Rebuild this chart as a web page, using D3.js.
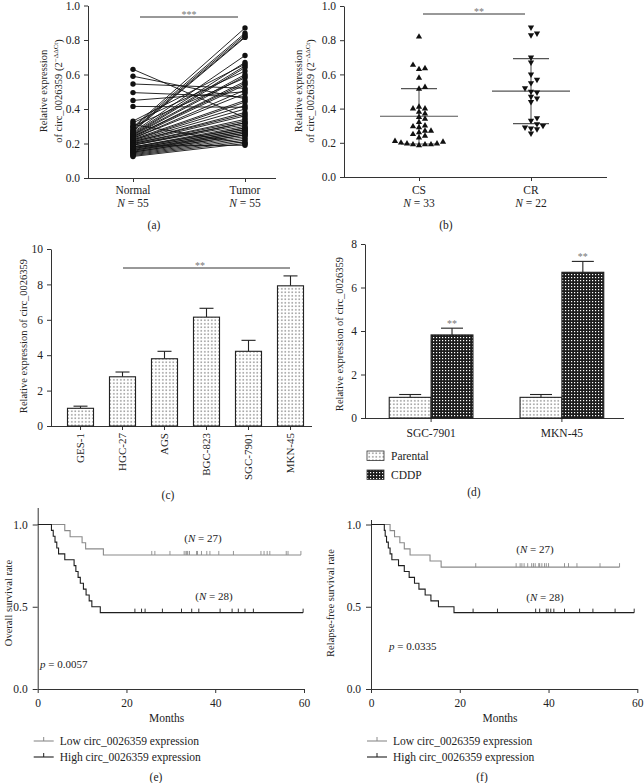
<!DOCTYPE html>
<html><head><meta charset="utf-8">
<script src="https://cdn.jsdelivr.net/npm/d3@7"></script>
<style>
body{margin:0;background:#fff;}
svg text{font-family:"Liberation Serif","DejaVu Serif",serif;fill:#222;}
</style></head><body>
<svg id="chart" width="644" height="783"></svg>
<script>
// ---------------- DATA ----------------
// (a) paired normal / tumor expression
const pairNormal = [0.63,0.59,0.545,0.495,0.45,0.415,0.33,0.32,0.31,0.30,0.295,0.29,0.28,0.275,0.27,0.265,0.26,0.255,0.25,0.25,0.245,0.24,0.24,0.235,0.23,0.23,0.225,0.22,0.22,0.215,0.21,0.21,0.205,0.20,0.20,0.195,0.19,0.19,0.185,0.18,0.18,0.175,0.17,0.17,0.165,0.16,0.16,0.155,0.15,0.15,0.145,0.14,0.135,0.13,0.125];
const pairTumor  = [0.35,0.46,0.52,0.47,0.50,0.41,0.66,0.62,0.20,0.58,0.87,0.84,0.83,0.82,0.815,0.71,0.67,0.65,0.64,0.60,0.59,0.56,0.55,0.54,0.51,0.49,0.45,0.44,0.42,0.40,0.38,0.37,0.36,0.34,0.33,0.32,0.32,0.31,0.19,0.30,0.29,0.29,0.28,0.28,0.27,0.27,0.26,0.26,0.25,0.25,0.24,0.23,0.22,0.21,0.20];
const aGroups = ["Normal","Tumor"];
const aN = [55,55];
// (b) CS / CR
const bGroups = ["CS","CR"];
const bN = [33,22];
const csValues = [0.82,0.655,0.63,0.635,0.58,0.525,0.515,0.41,0.40,0.40,0.38,0.37,0.35,0.34,0.32,0.30,0.295,0.29,0.27,0.27,0.26,0.25,0.24,0.23,0.21,0.205,0.20,0.195,0.195,0.19,0.19,0.19,0.185];
const crValues = [0.875,0.84,0.83,0.70,0.67,0.60,0.57,0.55,0.52,0.50,0.495,0.47,0.46,0.44,0.345,0.33,0.31,0.30,0.29,0.285,0.28,0.255];
const bMeans = [0.355,0.502];
const bSDs = [0.162,0.19];
// (c) cell lines
const cellLines = ["GES-1","HGC-27","AGS","BGC-823","SGC-7901","MKN-45"];
const cellExpr = [1.0,2.78,3.8,6.15,4.22,7.92];
const cellErr  = [0.12,0.27,0.42,0.5,0.62,0.56];
// (d) parental vs CDDP
const dGroups = ["SGC-7901","MKN-45"];
const dSeries = ["Parental","CDDP"];
const dParental = [0.95,0.95];
const dParentalErr = [0.13,0.13];
const dCDDP = [3.82,6.7];
const dCDDPErr = [0.31,0.5];
// (e) overall survival (months)
const osLowEvents = [6.1,7.3,10.0,10.8,14.8];
const osLowCensored = [25.7,26.4,29.8,33.0,33.4,33.8,34.2,35.8,36.0,36.9,38.1,38.8,40.8,44.1,50.3,51.0,51.7,52.3,56.0,56.4,33.6,59.3];
const osHighEvents = [3.1,3.5,3.9,4.3,4.7,6.1,8.2,8.6,9.1,9.6,10.3,10.9,11.6,12.2,14.1];
const osHighCensored = [21.9,23.4,24.2,28.1,32.4,34.7,36.3,41.1,43.8,45.2,46.7,48.6,59.8];
// (f) relapse-free survival (months)
const rfsLowEvents = [4.3,5.3,6.5,7.5,8.8,13.3,15.8];
const rfsLowCensored = [23.6,32.7,33.6,34.0,34.5,35.3,36.2,36.6,37.0,37.8,38.0,38.5,39.1,39.5,40.0,43.6,44.5,46.4,51.6,56.0];
const rfsHighEvents = [3.0,3.2,3.5,3.9,4.3,4.7,6.2,7.5,8.6,9.8,10.8,12.2,13.5,15.2,18.7];
const rfsHighCensored = [23.0,28.5,37.1,38.0,39.5,39.9,40.5,41.2,43.6,47.0,50.0,55.0,59.3];
const kmTicks = [0,20,40,60];
const kmYTicks = [0,0.5,1.0];

// ---------------- DRAWING ----------------
const svg = d3.select("#chart");
svg.append("rect").attr("width",644).attr("height",783).attr("fill","#fff");
const defs = svg.append("defs");
const pd = defs.append("pattern").attr("id","dots").attr("patternUnits","userSpaceOnUse").attr("width",3.5).attr("height",3.5);
pd.append("rect").attr("width",3.5).attr("height",3.5).attr("fill","#fff");
pd.append("rect").attr("x",1.2).attr("y",1.2).attr("width",1.2).attr("height",1.2).attr("fill","#555");
const pc = defs.append("pattern").attr("id","checks").attr("patternUnits","userSpaceOnUse").attr("width",3).attr("height",3);
pc.append("rect").attr("width",3).attr("height",3).attr("fill","#1c1c1c");
pc.append("rect").attr("x",1).attr("y",1).attr("width",1.2).attr("height",1.2).attr("fill","#fff");

const AX = "#333";
function styleAxis(g, fs){
  g.attr("font-size", fs||11).attr("font-family", null);
  g.selectAll("path,line").attr("stroke", AX).attr("stroke-width",1);
  g.selectAll("text").attr("fill","#222");
}
function vTitle(x, y, fs){
  return svg.append("text").attr("transform",`translate(${x},${y}) rotate(-90)`)
    .attr("text-anchor","middle").attr("font-size",fs||10.5);
}
function label(x,y,txt,fs,anchor){
  return svg.append("text").attr("x",x).attr("y",y).attr("text-anchor",anchor||"middle").attr("font-size",fs||11.5).text(txt);
}
function catLabel(x, y1, y2, name, n){
  label(x,y1,name,11.5);
  const t = svg.append("text").attr("x",x).attr("y",y2).attr("text-anchor","middle").attr("font-size",11.5);
  t.append("tspan").attr("font-style","italic").text("N");
  t.append("tspan").text(" = " + n);
}
function exprTitle(x1, x2, y){
  vTitle(x1, y).attr("dy","0.35em").text("Relative expression");
  const t = vTitle(x2, y).attr("dy","0.35em");
  t.append("tspan").text("of circ_0026359 (2");
  t.append("tspan").attr("font-size",7).attr("dy",-4).text("\u2212\u0394\u0394Ct");
  t.append("tspan").attr("dy",4).text(")");
}
function sig(x1,x2,y,stars,sx){
  svg.append("line").attr("x1",x1).attr("x2",x2).attr("y1",y).attr("y2",y).attr("stroke",AX);
  svg.append("text").attr("x",sx!==undefined?sx:(x1+x2)/2).attr("y",y+0.5).attr("text-anchor","middle")
    .attr("font-size",10).style("fill","#777").text(stars);
}
const fmt1 = d3.format(".1f");

// ===== (a) =====
{
  const y = d3.scaleLinear().domain([0,1]).range([178,5.5]);
  const x = d3.scalePoint().domain(aGroups).range([133,245]);
  svg.append("g").attr("transform","translate(88,0)")
    .call(d3.axisLeft(y).tickValues([0,0.2,0.4,0.6,0.8,1.0]).tickFormat(fmt1).tickSize(4).tickSizeOuter(0).tickPadding(4))
    .call(g=>styleAxis(g,11.5));
  const gx = svg.append("g").attr("transform","translate(0,178)")
    .call(d3.axisBottom(x).tickSize(4).tickSizeOuter(0).tickFormat(""))
    .call(g=>styleAxis(g));
  gx.select(".domain").attr("d","M88,0.5H276");
  const gl = svg.append("g");
  pairNormal.forEach((v,i)=>{
    gl.append("line").attr("x1",x("Normal")).attr("y1",y(v)).attr("x2",x("Tumor")).attr("y2",y(pairTumor[i]))
      .attr("stroke","#111").attr("stroke-width",0.9);
  });
  pairNormal.forEach((v,i)=>{
    gl.append("circle").attr("cx",x("Normal")).attr("cy",y(v)).attr("r",2.7).attr("fill","#111");
    gl.append("circle").attr("cx",x("Tumor")).attr("cy",y(pairTumor[i])).attr("r",2.7).attr("fill","#111");
  });
  aGroups.forEach((gname,i)=>catLabel(x(gname),194,207,gname,aN[i]));
  exprTitle(43,58,91);
  sig(140,238,17,"***",189);
  label(154,229,"(a)");
}

// ===== (b) =====
function dodge(values, y, w, h, step){
  const placed = [], offs = new Array(values.length);
  const order = d3.range(values.length).sort((a,b)=>values[a]-values[b]);
  order.forEach(i=>{
    const py = y(values[i]);
    for(let k=0;k<200;k++){
      const off = k===0?0:(k%2?1:-1)*Math.ceil(k/2)*step;
      if(placed.every(p=>Math.abs(p.x-off)>=w||Math.abs(p.y-py)>=h)){placed.push({x:off,y:py});offs[i]=off;break;}
    }
  });
  return offs;
}
{
  const y = d3.scaleLinear().domain([0,1]).range([177,6]);
  const x = d3.scalePoint().domain(bGroups).range([419,531]);
  svg.append("g").attr("transform","translate(344,0)")
    .call(d3.axisLeft(y).tickValues([0,0.2,0.4,0.6,0.8,1.0]).tickFormat(fmt1).tickSize(4).tickSizeOuter(0).tickPadding(4))
    .call(g=>styleAxis(g,11.5));
  const gx = svg.append("g").attr("transform","translate(0,177)")
    .call(d3.axisBottom(x).tickSize(4).tickSizeOuter(0).tickFormat(""))
    .call(g=>styleAxis(g));
  gx.select(".domain").attr("d","M344,0.5H607");
  const sets = [csValues, crValues];
  sets.forEach((vals,gi)=>{
    const cx = x(bGroups[gi]);
    const m = bMeans[gi], sd = bSDs[gi];
    const gs = svg.append("g").attr("stroke","#555").attr("stroke-width",1.1);
    gs.append("line").attr("x1",cx-39).attr("x2",cx+39).attr("y1",y(m)).attr("y2",y(m));
    gs.append("line").attr("x1",cx-18).attr("x2",cx+18).attr("y1",y(m+sd)).attr("y2",y(m+sd));
    gs.append("line").attr("x1",cx-18).attr("x2",cx+18).attr("y1",y(m-sd)).attr("y2",y(m-sd));
    gs.append("line").attr("x1",cx).attr("x2",cx).attr("y1",y(m+sd)).attr("y2",y(m-sd));
    const offs = dodge(vals,y,5.8,5,1.5);
    const sym = d3.symbol(d3.symbolTriangle,17)();
    vals.forEach((v,i)=>{
      svg.append("path").attr("d",sym)
        .attr("transform",`translate(${cx+offs[i]},${y(v)})`+(gi===1?" rotate(180)":""))
        .attr("fill","#111");
    });
  });
  bGroups.forEach((gname,i)=>catLabel(x(gname),194,207,gname,bN[i]));
  exprTitle(298,310,91);
  sig(423,525,14,"**",479);
  label(446,229,"(b)");
}

// ===== (c) =====
{
  const y = d3.scaleLinear().domain([0,10]).range([426,249]);
  const x = d3.scaleBand().domain(cellLines).range([59.5,311.5]).paddingInner(0.38).paddingOuter(0.19);
  svg.append("g").attr("transform","translate(51,0)")
    .call(d3.axisLeft(y).tickValues([0,2,4,6,8,10]).tickSize(4).tickSizeOuter(0).tickPadding(4))
    .call(g=>styleAxis(g,11.5));
  const gx = svg.append("g").attr("transform","translate(0,426)")
    .call(d3.axisBottom(x).tickSize(4).tickSizeOuter(0))
    .call(g=>styleAxis(g,11));
  gx.select(".domain").attr("d","M51,0.5H312");
  gx.selectAll(".tick text").attr("transform","rotate(-90)").attr("x",-7).attr("y",0).attr("dy","0.35em").attr("text-anchor","end");
  const bw = x.bandwidth();
  cellLines.forEach((c,i)=>{
    const v = cellExpr[i], e = cellErr[i], cx = x(c)+bw/2;
    svg.append("line").attr("x1",cx).attr("x2",cx).attr("y1",y(v)).attr("y2",y(v+e)).attr("stroke","#222").attr("stroke-width",1.1);
    svg.append("line").attr("x1",cx-7).attr("x2",cx+7).attr("y1",y(v+e)).attr("y2",y(v+e)).attr("stroke","#222").attr("stroke-width",1.1);
    svg.append("rect").attr("x",x(c)).attr("y",y(v)).attr("width",bw).attr("height",y(0)-y(v))
      .attr("fill","url(#dots)").attr("stroke","#222").attr("stroke-width",1.1);
  });
  vTitle(23,336).attr("dy","0.35em").text("Relative expression of circ_0026359");
  sig(123,290,268,"**",200);
  label(168,499,"(c)");
}

// ===== (d) =====
{
  const y = d3.scaleLinear().domain([0,8]).range([418,244]);
  const x0 = d3.scaleBand().domain(dGroups).range([367,626]).paddingInner(0.36).paddingOuter(0.17);
  const x1 = d3.scaleBand().domain(dSeries).range([0,x0.bandwidth()]);
  svg.append("g").attr("transform","translate(365,0)")
    .call(d3.axisLeft(y).tickValues([0,2,4,6,8]).tickSize(4).tickSizeOuter(0).tickPadding(4))
    .call(g=>styleAxis(g,11.5));
  const gx = svg.append("g").attr("transform","translate(0,418)")
    .call(d3.axisBottom(x0).tickSize(4).tickSizeOuter(0).tickPadding(7))
    .call(g=>styleAxis(g,11.5));
  gx.select(".domain").attr("d","M365,0.5H624");
  const vals = {Parental:[dParental,dParentalErr,"url(#dots)"], CDDP:[dCDDP,dCDDPErr,"url(#checks)"]};
  dGroups.forEach((gname,gi)=>{
    dSeries.forEach(s=>{
      const v = vals[s][0][gi], e = vals[s][1][gi];
      const bx = x0(gname)+x1(s), bw = x1.bandwidth(), cx = bx+bw/2;
      svg.append("line").attr("x1",cx).attr("x2",cx).attr("y1",y(v)).attr("y2",y(v+e)).attr("stroke","#222").attr("stroke-width",1.1);
      svg.append("line").attr("x1",cx-11).attr("x2",cx+11).attr("y1",y(v+e)).attr("y2",y(v+e)).attr("stroke","#222").attr("stroke-width",1.1);
      svg.append("rect").attr("x",bx).attr("y",y(v)).attr("width",bw).attr("height",y(0)-y(v))
        .attr("fill",vals[s][2]).attr("stroke","#222").attr("stroke-width",1.1);
      if(s==="CDDP"){
        svg.append("text").attr("x",cx).attr("y",y(v+e)-1).attr("text-anchor","middle").attr("font-size",10).style("fill","#777").text("**");
      }
    });
  });
  // legend
  dSeries.forEach((s,i)=>{
    const ly = 451 + i*19;
    svg.append("rect").attr("x",367).attr("y",ly).attr("width",17).attr("height",9.5).attr("fill",vals[s][2]).attr("stroke","#333").attr("stroke-width",0.8);
    label(391,ly+8.5,s,11.5,"start");
  });
  vTitle(339,334).attr("dy","0.35em").text("Relative expression of circ_0026359");
  label(474,496,"(d)");
}

// ===== (e) & (f) =====
function kmCurve(events, censored){
  const n = events.length + censored.length;
  const obs = events.map(t=>({t,e:1})).concat(censored.map(t=>({t,e:0})))
    .sort((a,b)=>a.t-b.t || b.e-a.e);
  let atRisk = n, s = 1;
  const pts = [[0,1]], marks = [];
  obs.forEach(o=>{
    if(o.e){ s *= (1-1/atRisk); pts.push([o.t,s]); }
    else marks.push([o.t,s]);
    atRisk--;
  });
  pts.push([d3.max(obs,d=>d.t), s]);
  return {pts, marks, n};
}
function drawKM(cfg){
  const x = d3.scaleLinear().domain([0,60]).range([cfg.x0, cfg.x0+266.3]);
  const y = d3.scaleLinear().domain([0,1]).range([689,524.5]);
  const ga = svg.append("g").attr("transform",`translate(${cfg.x0},0)`)
    .call(d3.axisLeft(y).tickValues(kmYTicks).tickFormat(fmt1).tickSize(5).tickSizeOuter(0).tickPadding(5))
    .call(g=>styleAxis(g,11.5));
  ga.select(".domain").attr("d",`M0.5,689V${cfg.yTop}`);
  svg.append("g").attr("transform","translate(0,689)")
    .call(d3.axisBottom(x).tickValues(kmTicks).tickSize(4).tickSizeOuter(0).tickPadding(6))
    .call(g=>styleAxis(g,11.5));
  const line = d3.line().x(d=>x(d[0])).y(d=>y(d[1])).curve(d3.curveStepAfter);
  const groups = [
    {c:kmCurve(cfg.lowEv,cfg.lowCen), col:"#8a8a8a"},
    {c:kmCurve(cfg.highEv,cfg.highCen), col:"#1e1e1e"}
  ];
  groups.forEach(g=>{
    svg.append("path").attr("d",line(g.c.pts)).attr("fill","none").attr("stroke",g.col).attr("stroke-width",1.1);
    g.c.marks.forEach(m=>{
      svg.append("line").attr("x1",x(m[0])).attr("x2",x(m[0])).attr("y1",y(m[1])).attr("y2",y(m[1])-4)
        .attr("stroke",g.col).attr("stroke-width",0.9);
    });
  });
  const t1 = svg.append("text").attr("x",cfg.n1[0]).attr("y",cfg.n1[1]).attr("text-anchor","middle").attr("font-size",11);
  t1.append("tspan").text("(");t1.append("tspan").attr("font-style","italic").text("N");t1.append("tspan").text(" = "+groups[0].c.n+")");
  const t2 = svg.append("text").attr("x",cfg.n2[0]).attr("y",cfg.n2[1]).attr("text-anchor","middle").attr("font-size",11);
  t2.append("tspan").text("(");t2.append("tspan").attr("font-style","italic").text("N");t2.append("tspan").text(" = "+groups[1].c.n+")");
  const tp = svg.append("text").attr("x",cfg.p[0]).attr("y",cfg.p[1]).attr("font-size",11);
  tp.append("tspan").attr("font-style","italic").text("p");
  tp.append("tspan").text(" = "+cfg.pval);
  vTitle(cfg.titleX,603).attr("dy","0.35em").text(cfg.title);
  label(cfg.x0+129,722,"Months",11.5);
  const legs = [["Low circ_0026359 expression","#8a8a8a"],["High circ_0026359 expression","#1e1e1e"]];
  legs.forEach((l,i)=>{
    const ly = 741 + i*16;
    svg.append("line").attr("x1",cfg.x0-4).attr("x2",cfg.x0+16).attr("y1",ly).attr("y2",ly).attr("stroke",l[1]).attr("stroke-width",1.1);
    svg.append("line").attr("x1",cfg.x0+6).attr("x2",cfg.x0+6).attr("y1",ly).attr("y2",ly-4).attr("stroke",l[1]).attr("stroke-width",1);
    label(cfg.x0+22,ly+4,l[0],11.5,"start");
  });
  label(cfg.letterX,781,cfg.letter,11.5);
}
drawKM({x0:37.7, yTop:508, lowEv:osLowEvents, lowCen:osLowCensored, highEv:osHighEvents, highCen:osHighCensored,
  n1:[203,542], n2:[214,600], p:[40,668], pval:"0.0057", title:"Overall survival rate", titleX:8, letter:"(e)", letterX:156});
drawKM({x0:371, yTop:520, lowEv:rfsLowEvents, lowCen:rfsLowCensored, highEv:rfsHighEvents, highCen:rfsHighCensored,
  n1:[535,553], n2:[545,601], p:[389,650], pval:"0.0335", title:"Relapse-free survival rate", titleX:330, letter:"(f)", letterX:482});
</script>
</body></html>
